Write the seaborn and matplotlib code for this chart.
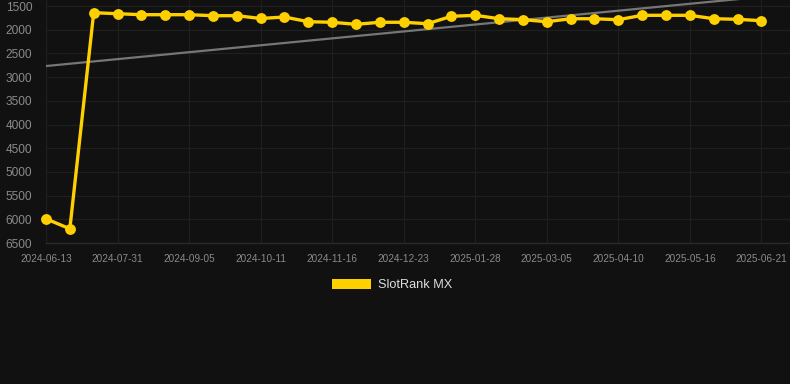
import matplotlib
matplotlib.use("Agg")
import matplotlib.pyplot as plt
from matplotlib.patches import Patch
import seaborn as sns
import pandas as pd
import numpy as np

# ---- data ----
rank_values = [5990, 6200, 1641, 1662, 1683, 1683, 1683, 1704, 1704, 1763,
               1732, 1831, 1843, 1886, 1843, 1843, 1873, 1717, 1696, 1768,
               1787, 1831, 1768, 1768, 1789, 1696, 1696, 1696, 1768, 1780,
               1810]
tick_labels = ["2024-06-13", "2024-07-31", "2024-09-05", "2024-10-11",
               "2024-11-16", "2024-12-23", "2025-01-28", "2025-03-05",
               "2025-04-10", "2025-05-16", "2025-06-21"]
y_ticks = [1500, 2000, 2500, 3000, 3500, 4000, 4500, 5000, 5500, 6000, 6500]
series_name = "SlotRank MX"

BG = "#111111"
YELLOW = "#FFD000"

sns.set_theme(style="dark")
plt.rcParams["font.family"] = ["Liberation Sans", "DejaVu Sans"]

df = pd.DataFrame({"idx": np.arange(len(rank_values)), "rank": rank_values})

fig = plt.figure(figsize=(7.9, 3.84), dpi=100, facecolor=BG)
ax = fig.add_axes([46 / 790, 1 - 243 / 384, 1 - 46 / 790, 243 / 384])
ax.set_facecolor(BG)

# trend line (linear regression)
sns.regplot(data=df, x="idx", y="rank", ax=ax, scatter=False, ci=None,
            color="#767676", line_kws={"linewidth": 1.6, "zorder": 2})
# main series
sns.lineplot(data=df, x="idx", y="rank", ax=ax, color=YELLOW, linewidth=2.4,
             marker="o", markersize=7.8, markeredgewidth=0, zorder=3)
for ln in ax.lines[1:]:
    ln.set_clip_on(False)

ax.set_xlim(0, 31.2)
ax.set_ylim(6500, 1373)
ax.set_yticks(y_ticks)
ax.set_yticklabels([str(v) for v in y_ticks])
tick_pos = list(range(0, len(rank_values), 3))
ax.set_xticks(tick_pos)
ax.set_xticklabels(tick_labels)

ax.grid(True, color="#1f1f1f", linewidth=0.9)
ax.set_axisbelow(True)
for s in ["top", "right", "left"]:
    ax.spines[s].set_visible(False)
ax.spines["bottom"].set_visible(True)
ax.spines["bottom"].set_color("#2a2a2a")
ax.spines["bottom"].set_linewidth(1.0)

ax.tick_params(axis="y", length=0, pad=10, labelsize=8.6, labelcolor="#8a8a8a")
ax.tick_params(axis="x", length=0, pad=8, labelsize=7.2, labelcolor="#8a8a8a")
ax.set_xlabel("")
ax.set_ylabel("")

leg = fig.legend(handles=[Patch(facecolor=YELLOW, edgecolor="none", label=series_name)],
                 loc="center", bbox_to_anchor=(0.496, 1 - 285 / 384), frameon=False,
                 fontsize=9.2, handlelength=3.1, handleheight=0.8, handletextpad=0.5)
for t in leg.get_texts():
    t.set_color("#dddddd")

fig.savefig("out.png", dpi=100, facecolor=BG)
